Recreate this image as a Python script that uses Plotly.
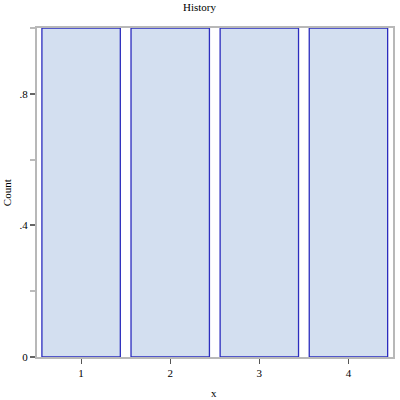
import plotly.graph_objects as go

categories = [1, 2, 3, 4]
counts = [1, 1, 1, 1]
y_tickvals = [0, 0.4, 0.8]
y_ticktext = ["0", ".4", ".8"]
x_tickvals = [1, 2, 3, 4]
x_ticktext = ["1", "2", "3", "4"]

font = dict(family="Liberation Serif, DejaVu Serif, serif", size=11, color="black")

fig = go.Figure()
fig.add_trace(go.Bar(
    x=categories, y=counts, width=0.88,
    marker=dict(color="#d3dff0", line=dict(color="rgba(10,10,180,0.85)", width=1.3)),
))

axis_common = dict(showline=True, linecolor="#b8b8b8", linewidth=2, mirror=True,
                   showgrid=False, zeroline=False, tickfont=font)

fig.update_layout(
    width=400, height=400,
    margin=dict(l=37, r=5, t=28, b=43),
    paper_bgcolor="white", plot_bgcolor="white",
    showlegend=False,
    font=font,
    xaxis=dict(range=[0.505, 4.5], tickvals=x_tickvals, ticktext=x_ticktext,
               ticks="outside", ticklen=5, tickcolor="#555", tickwidth=1, **axis_common),
    yaxis=dict(range=[0, 1], tickvals=y_tickvals, ticktext=y_ticktext,
               ticks="outside", ticklen=5, tickcolor="#666", tickwidth=2,
               minor=dict(tickvals=[0.2, 0.6, 1.0], ticks="outside", ticklen=5,
                          tickcolor="#bbb", tickwidth=2),
               **axis_common),
    yaxis2=dict(range=[0, 1], overlaying="y", tickvals=[0, 0.2, 0.4, 0.6, 0.8, 1.0],
                ticks="inside", ticklen=5, tickcolor="#888", tickwidth=2, mirror=True,
                showticklabels=False, showline=False, showgrid=False, zeroline=False),
)
fig.add_annotation(text="History", xref="paper", yref="paper", x=(200.5 - 37) / 358, y=1 + (28 - 7) / 329,
                   showarrow=False, font=font, xanchor="center", yanchor="middle")
fig.add_annotation(text="Count", xref="paper", yref="paper", x=-(37 - 7) / 358, y=(357 - 193) / 329,
                   showarrow=False, font=font, textangle=-90, xanchor="center", yanchor="middle")
fig.add_annotation(text="x", xref="paper", yref="paper", x=(215 - 37) / 358, y=-(393 - 357) / 329,
                   showarrow=False, font=font, xanchor="center", yanchor="middle")

fig.write_html("out.html", config={"displayModeBar": False, "staticPlot": True},
               post_script="document.body.style.margin='0';document.body.style.overflow='hidden';")
